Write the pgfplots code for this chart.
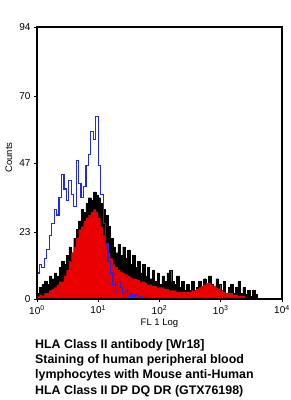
\documentclass[border=0pt]{standalone}
\usepackage{pgfplots}
\pgfplotsset{compat=1.18}
\usepackage{fontspec}
\setmainfont{Liberation Sans}
\definecolor{histred}{RGB}{235,0,0}
\definecolor{histblue}{RGB}{30,40,235}
\begin{document}
\begin{tikzpicture}[x=1pt,y=1pt]
\useasboundingbox (0,0) rectangle (290,400);
\begin{axis}[
  at={(37pt,101pt)}, anchor=south west,
  scale only axis, width=245pt, height=272pt,
  xmin=0, xmax=4, ymin=0, ymax=94,
  axis line style={line width=1.1pt},
  xtick={0,1,2,3,4},
  xticklabels={10\textsuperscript{0},10\textsuperscript{1},10\textsuperscript{2},10\textsuperscript{3},10\textsuperscript{4}},
  ytick={0,23,47,70,94},
  tick align=outside, major tick length=3pt,
  xtick pos=bottom, ytick pos=left,
  tick style={line width=0.8pt,black},
  tick label style={font=\fontsize{10}{12}\selectfont},
  /pgf/number format/assume math mode=true,
  xlabel={FL 1 Log}, ylabel={Counts},
  xlabel style={font=\fontsize{9.5}{11}\selectfont, yshift=2pt},
  ylabel style={font=\fontsize{9.5}{11}\selectfont, at={(axis description cs:-0.115,0.52)}, anchor=center},
  axis on top,
]
\addplot[const plot, fill=black, draw=black, line width=0.4pt] table {
x y
0.00 2
0.04 4
0.08 5
0.12 6
0.16 5
0.20 8
0.24 7
0.28 9
0.32 8
0.36 11
0.40 13
0.44 12
0.48 15
0.52 18
0.56 16
0.60 21
0.64 24
0.68 27
0.72 31
0.76 30
0.80 33
0.84 35
0.88 34
0.92 37
0.96 36
1.00 35
1.04 33
1.08 31
1.12 29
1.16 25
1.20 21
1.24 18
1.28 16
1.32 19
1.36 15
1.40 18
1.44 14
1.48 17
1.52 12
1.56 15
1.60 11
1.64 13
1.68 9
1.72 12
1.76 8
1.80 11
1.84 7
1.88 10
1.92 6
1.96 9
2.00 5
2.04 8
2.08 6
2.12 9
2.16 10
2.20 6
2.24 5
2.28 8
2.32 4
2.36 6
2.40 3
2.44 5
2.48 3
2.52 6
2.56 3
2.60 4
2.64 6
2.68 3
2.72 7
2.76 4
2.80 8
2.84 5
2.88 4
2.92 7
2.96 5
3.00 3
3.04 6
3.08 2
3.12 4
3.16 5
3.20 2
3.24 4
3.28 6
3.32 2
3.36 4
3.40 1.5
3.44 3
3.48 1
3.52 3
3.56 1.5
3.60 0
} \closedcycle;
\addplot[const plot, fill=histred, draw=none] table {
x y
0.00 1
0.04 1.5
0.08 1
0.12 2
0.16 2
0.20 3
0.24 3.5
0.28 4
0.32 5
0.36 6
0.40 6
0.44 8
0.48 10
0.52 13
0.56 16
0.60 18
0.64 21
0.68 24
0.72 25
0.76 27
0.80 28
0.84 29
0.88 30
0.92 31
0.96 30
1.00 28
1.04 25
1.08 22
1.12 19
1.16 16
1.20 14
1.24 12
1.28 11
1.32 10
1.36 9.5
1.40 9
1.44 8.5
1.48 8
1.52 7.5
1.56 7
1.60 7
1.64 6.5
1.68 6
1.72 6
1.76 5.5
1.80 5
1.84 5
1.88 4.5
1.92 4.5
1.96 4
2.00 4
2.04 4
2.08 3.5
2.12 3.5
2.16 3
2.20 3
2.24 3
2.28 2.5
2.32 2.5
2.36 2.5
2.40 2.5
2.44 2.5
2.48 2.5
2.52 3
2.56 3
2.60 3.5
2.64 4
2.68 4.5
2.72 5
2.76 5.5
2.80 5.5
2.84 5
2.88 4.5
2.92 4
2.96 3.5
3.00 3
3.04 2.5
3.08 2
3.12 2
3.16 2
3.20 1.5
3.24 1.5
3.28 1
3.32 1
3.36 1
3.40 0.5
3.44 0.5
3.48 0
} \closedcycle;
\addplot[const plot, draw=histblue, line width=1.2pt] table {
x y
0.00 9
0.04 12
0.08 11
0.12 14
0.16 17
0.20 22
0.24 26
0.28 31
0.32 29
0.36 35
0.40 43
0.44 38
0.48 34
0.52 41
0.56 36
0.60 32
0.64 48
0.68 40
0.72 35
0.76 39
0.80 46
0.84 50
0.88 58
0.92 55
0.96 63
1.00 46
1.04 36
1.08 26
1.12 19
1.16 13
1.20 9
1.24 5
1.28 3
1.32 6
1.36 4
1.40 2
1.44 3
1.48 1
1.52 2
1.56 1
1.60 1.5
1.64 0.5
1.68 1
1.72 0.3
1.76 0.5
1.80 0
};
\end{axis}
\node[anchor=north west, inner sep=0pt, align=left,
  font=\bfseries\fontsize{12.4}{15.3}\selectfont] at (35,61)
{HLA Class II antibody [Wr18]\\
Staining of human peripheral blood\\
lymphocytes with Mouse anti-Human\\
HLA Class II DP DQ DR (GTX76198)};
\end{tikzpicture}
\end{document}
